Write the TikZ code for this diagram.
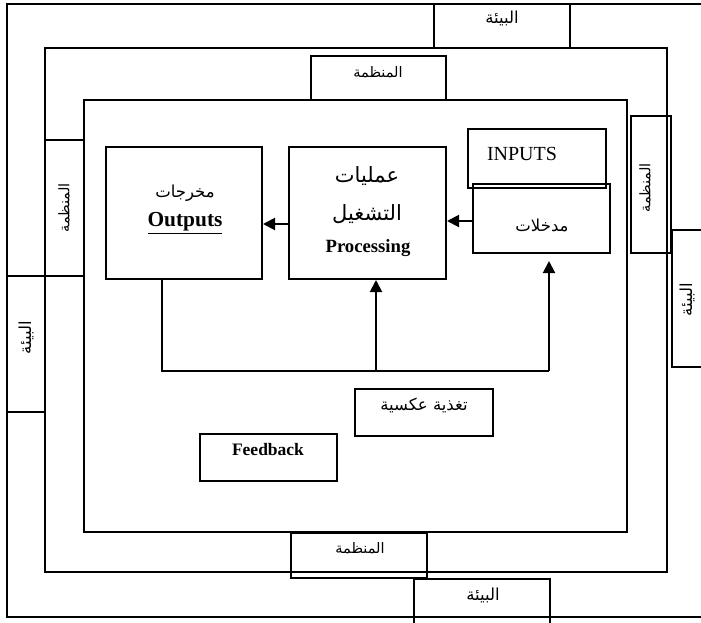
\documentclass[tikz,border=0pt]{standalone}
\usepackage{fontspec}
\setmainfont{Liberation Serif}
\newfontfamily\arabicfont[Script=Arabic]{DejaVu Sans}
\TeXXeTstate=1
\usetikzlibrary{arrows.meta}
\begin{document}
\begin{tikzpicture}[x=1pt,y=-1pt,
  frame/.style={line width=2pt},
  box/.style={draw, line width=2pt, inner sep=0pt},
  lbl/.style={inner sep=0pt},
  arS/.style={lbl, font=\arabicfont\fontsize{14.5}{14.5}\selectfont},
  arM/.style={lbl, font=\arabicfont\fontsize{16.5}{16.5}\selectfont},
  arL/.style={lbl, font=\arabicfont\fontsize{21}{21}\selectfont},
  en/.style={lbl, font=\fontsize{#1}{#1}\selectfont},
  link/.style={line width=2pt},
  arr/.style={link, -{Triangle[length=12pt,width=12pt]}}]
\useasboundingbox (0,0) rectangle (701,622);
\clip (0,0) rectangle (701,622);
% frames
\draw[frame] (7,4) rectangle (730,617);
\draw[frame] (45,48) rectangle (667,572);
\draw[frame] (84,100) rectangle (627,532);
% label boxes
\node[box, minimum width=136, minimum height=44] (envT) at (502,26) {};
\node[box, minimum width=135, minimum height=44] (orgT) at (378.5,78) {};
\node[box, minimum width=136, minimum height=45] (orgB) at (359,555.5) {};
\node[box, minimum width=136, minimum height=61] (envB) at (482,609.5) {};
\node[box, minimum width=39, minimum height=136] (orgL) at (64.5,208) {};
\node[box, minimum width=38, minimum height=136] (envL) at (26,344) {};
\node[box, minimum width=40, minimum height=137] (orgR) at (651,184.5) {};
\node[box, minimum width=48, minimum height=137] (envR) at (696,298.5) {};
\node[arM] (tEnvT) at (502,18) {\beginR البيئة\endR};
\node[arS] (tOrgT) at (378,72) {\beginR المنظمة\endR};
\node[arS] (tOrgB) at (360,548) {\beginR المنظمة\endR};
\node[arM] (tEnvB) at (483,595) {\beginR البيئة\endR};
\node[arS, rotate=90] (tOrgL) at (64,208) {\beginR المنظمة\endR};
\node[arM, rotate=90] (tEnvL) at (26,338) {\beginR البيئة\endR};
\node[arS, rotate=90] (tOrgR) at (645,188) {\beginR المنظمة\endR};
\node[arM, rotate=90] (tEnvR) at (687,300) {\beginR البيئة\endR};
% main boxes
\node[box, minimum width=156, minimum height=132] (out) at (184,213) {};
\node[box, minimum width=157, minimum height=132] (proc) at (367.5,213) {};
\node[box, minimum width=138, minimum height=59] (inp) at (537,158.5) {};
\node[box, minimum width=137, minimum height=69] (mdk) at (541.5,218.5) {};
\node[arM] (tOutAr) at (185,193) {\beginR مخرجات\endR};
\node[en=21.4] (tOutEn) at (185,223) {\bfseries\underline{Outputs}};
\node[arL] (tProcAr1) at (367,176) {\beginR عمليات\endR};
\node[arL] (tProcAr2) at (367,214) {\beginR التشغيل\endR};
\node[en=18.7] (tProcEn) at (368,248) {\bfseries Processing};
\node[en=20] (tInp) at (522,154) {INPUTS};
\node[arM] (tMdk) at (542,225) {\beginR مدخلات\endR};
% feedback boxes
\node[box, minimum width=138, minimum height=47] (fbAr) at (424,412.5) {};
\node[box, minimum width=137, minimum height=47] (fbEn) at (268.5,457.5) {};
\node[arM] (tFbAr) at (424,405) {\beginR تغذية عكسية\endR};
\node[en=17.5] (tFbEn) at (268,450) {\bfseries Feedback};
% connectors
\draw[arr] ([yshift=-11pt]proc.west) -- ([yshift=-11pt]out.east);
\draw[arr] ([yshift=-2.5pt]mdk.west) -- ([yshift=-8pt]proc.east);
\coordinate (fbL) at (162,371);
\coordinate (fbM) at (376,371);
\coordinate (fbR) at (549,371);
\draw[link] (fbL |- out.south) -- (fbL) -- (fbR);
\draw[arr] (fbM) -- (fbM |- proc.south);
\draw[arr] (fbR) -- ([yshift=-7pt]fbR |- mdk.south);
\end{tikzpicture}
\end{document}
